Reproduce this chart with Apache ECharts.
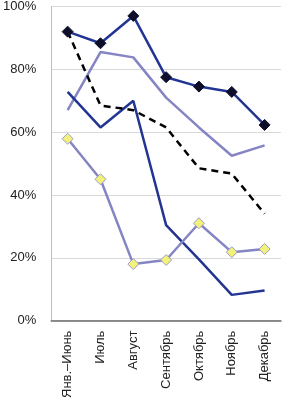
<!DOCTYPE html>
<html><head><meta charset="utf-8">
<script src="https://cdn.jsdelivr.net/npm/echarts@6/dist/echarts.min.js"></script>
<style>html,body{margin:0;padding:0;background:#fff}#c{width:282px;height:401px}</style>
</head><body><div id="c"></div>
<script>
const categories = ['Янв.–Июнь','Июль','Август','Сентябрь','Октябрь','Ноябрь','Декабрь'];
const seriesDiamondDark = [92, 88.3, 97, 77.5, 74.5, 72.8, 62.3];
const seriesDarkBlue = [72.8, 61.5, 70, 30.4, 19.5, 8.2, 9.6];
const seriesLightPurple = [67, 85.5, 83.8, 71, 61.5, 52.5, 55.8];
const seriesDashed = [92, 68.5, 67, 61.5, 48.5, 46.8, 34];
const seriesYellow = [57.9, 45, 18, 19.3, 31, 21.8, 22.8];
const yTicks = [0, 20, 40, 60, 80, 100];

const chart = echarts.init(document.getElementById('c'), null, {renderer:'canvas'});
const font = 'Liberation Sans, Arial, sans-serif';
chart.setOption({
  animation:false,
  grid:{left:47,right:1,top:5,bottom:80,containLabel:false},
  xAxis:{type:'category',data:categories,boundaryGap:true,
    axisLine:{lineStyle:{color:'#6b6b6b',width:1.5}},
    axisTick:{show:false},
    axisLabel:{rotate:90,color:'#222',fontSize:13,fontFamily:font,margin:10,interval:0}},
  yAxis:{type:'value',min:0,max:100,interval:20,
    axisLine:{show:true,lineStyle:{color:'#bfbfbf'}},
    axisTick:{show:false},
    splitLine:{lineStyle:{color:'#d9d9d9'}},
    axisLabel:{formatter:v=>yTicks.includes(v)?v+'%':'',color:'#222',fontSize:13,fontFamily:font,margin:15}},
  series:[
    {type:'line',data:seriesLightPurple,symbol:'none',lineStyle:{color:'#8585c4',width:2.5},z:2},
    {type:'line',data:seriesDarkBlue,symbol:'none',lineStyle:{color:'#233592',width:2.5},z:3},
    {type:'line',data:seriesDashed,symbol:'none',lineStyle:{color:'#000',width:2.5,type:[7,5]},z:4},
    {type:'line',data:seriesYellow,symbol:'diamond',symbolSize:11,
      itemStyle:{color:'#f2f27a',borderColor:'#9a9acc',borderWidth:1},
      lineStyle:{color:'#8585c4',width:2.5},z:5},
    {type:'line',data:seriesDiamondDark,symbol:'diamond',symbolSize:11,
      itemStyle:{color:'#0d0f2a',borderColor:'#0d0f2a'},
      lineStyle:{color:'#233592',width:2.5},z:6}
  ]
});
</script></body></html>
